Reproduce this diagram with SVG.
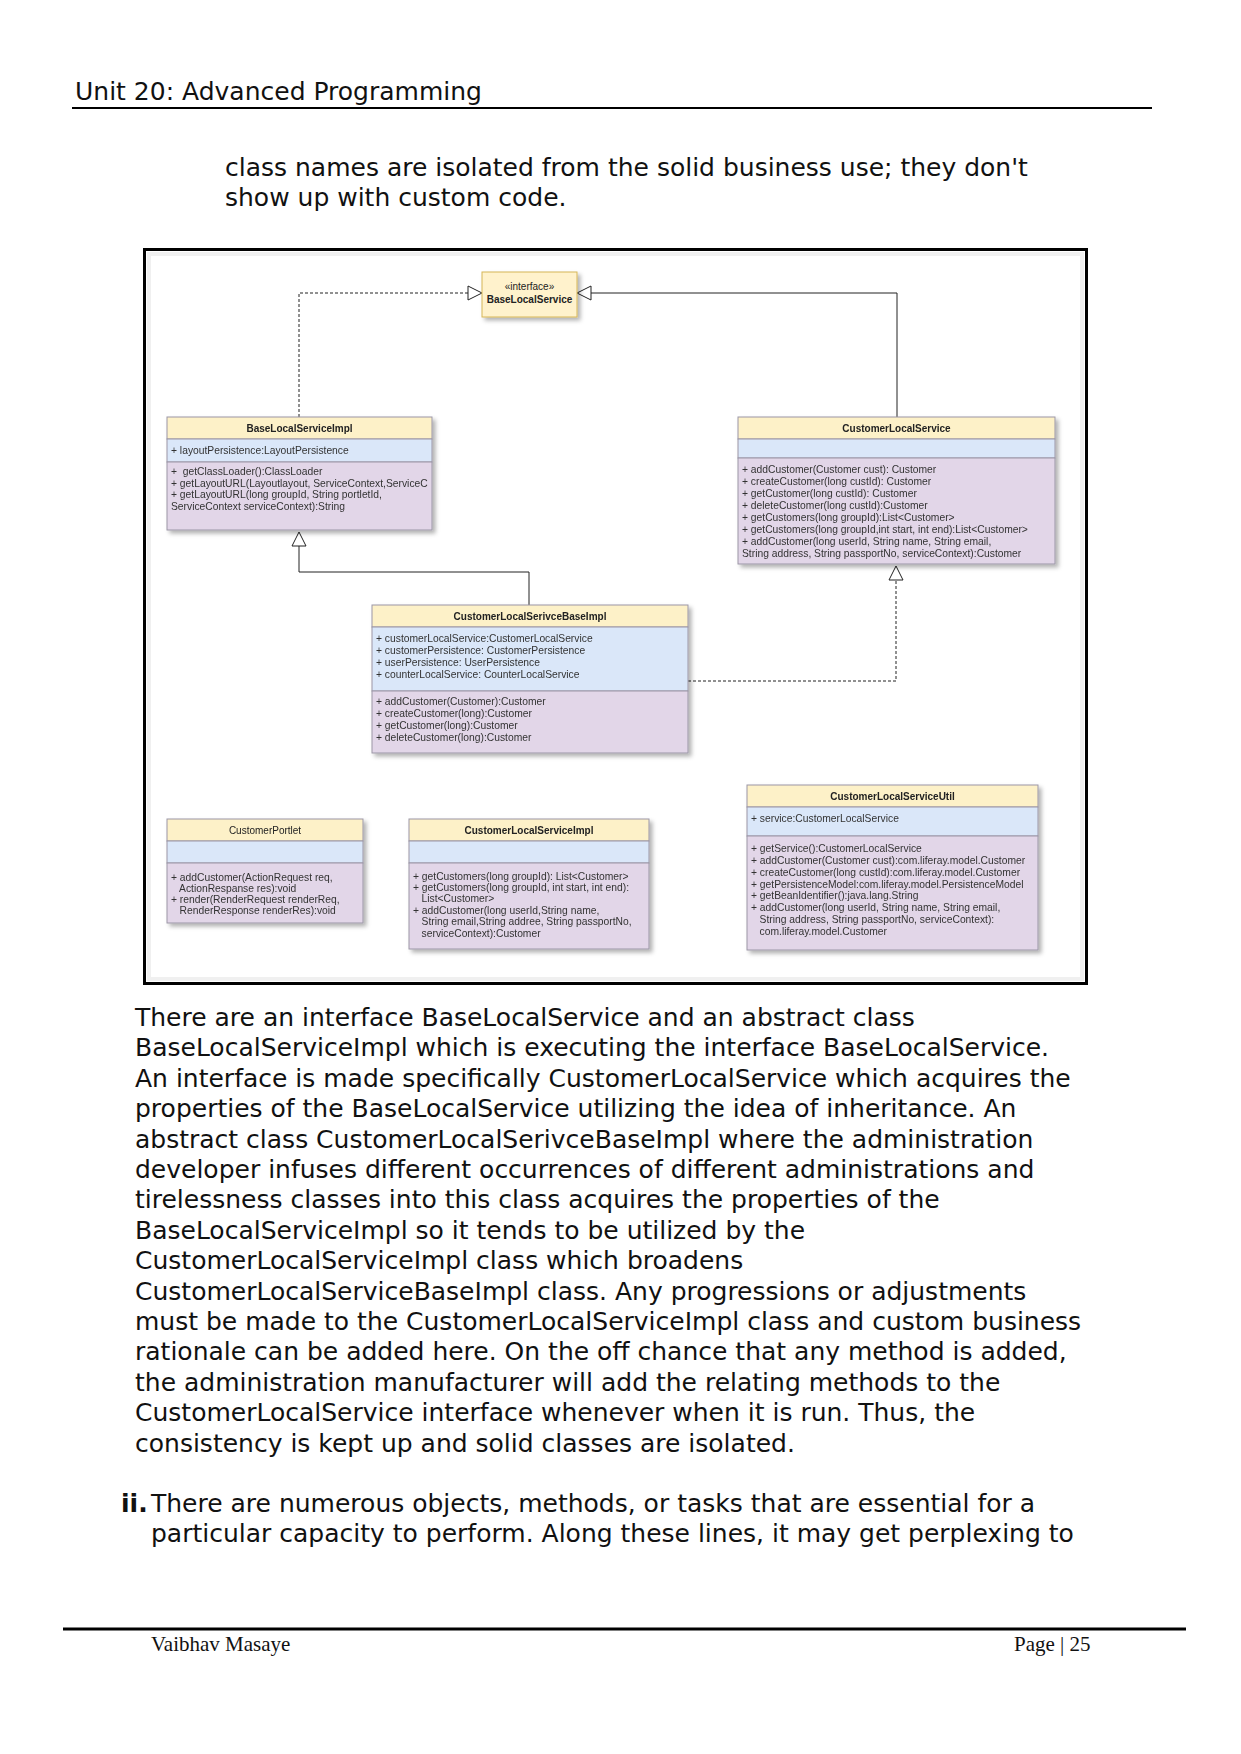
<svg xmlns="http://www.w3.org/2000/svg" width="1241" height="1754" viewBox="0 0 1241 1754">
<defs>
<style>
.page{font-family:"DejaVu Sans",sans-serif;font-size:25px;fill:#111}
.foot{font-family:"Liberation Serif",serif;font-size:21px;fill:#111}
.hd{fill:#fdf1c8;stroke:#9b96a6;stroke-width:1}
.at{fill:#dae7f9;stroke:#9b96a6;stroke-width:1}
.me{fill:#e2d6e8;stroke:#9b96a6;stroke-width:1}
.ttl{font-family:"Liberation Sans",Arial,sans-serif;font-size:10px;font-weight:bold;fill:#222;text-anchor:middle}
.tx{font-family:"Liberation Sans",Arial,sans-serif;font-size:10.3px;fill:#333;white-space:pre}
.ln{fill:none;stroke:#222;stroke-width:1}
.dl{fill:none;stroke:#222;stroke-width:1;stroke-dasharray:3 2}
.tri{fill:#fff;stroke:#222;stroke-width:1}
</style>
<filter id="sh" x="-10%" y="-10%" width="130%" height="130%">
<feDropShadow dx="3" dy="3" stdDeviation="2" flood-color="#000" flood-opacity="0.3"/>
</filter>
<clipPath id="c1"><rect x="167" y="462" width="265" height="68"/></clipPath>
</defs>
<rect x="0" y="0" width="1241" height="1754" fill="#fff"/>

<text class="page" x="75" y="100">Unit 20: Advanced Programming</text>
<line x1="72" y1="108" x2="1152" y2="108" stroke="#000" stroke-width="2"/>
<text class="page" x="225" y="176">class names are isolated from the solid business use; they don't</text>
<text class="page" x="225" y="206">show up with custom code.</text>

<g id="frame">
<rect x="144.5" y="249.5" width="942" height="734" fill="#fff" stroke="#000" stroke-width="3"/>
<rect x="149" y="254" width="933" height="725" fill="none" stroke="#f0f0f0" stroke-width="4"/>
</g>

<g id="connectors">
<polyline class="dl" points="299,417 299,293 468,293"/>
<polygon class="tri" points="468,286 482,293 468,300"/>
<polyline class="ln" points="897,417 897,293 591,293"/>
<polygon class="tri" points="591,286 577,293 591,300"/>
<polyline class="ln" points="529,605 529,572 299,572 299,546"/>
<polygon class="tri" points="292,546 299,532 306,546"/>
<polyline class="dl" points="688,681 896,681 896,580"/>
<polygon class="tri" points="889,580 896,566 903,580"/>
</g>

<g id="BaseLocalService">
<rect x="482" y="272" width="95" height="45" fill="#fff2cc" stroke="#d6b656" filter="url(#sh)"/>
<text class="ttl" x="529.5" y="290" style="font-weight:normal;font-size:10px">«interface»</text>
<text class="ttl" x="529.5" y="303">BaseLocalService</text>
</g>

<g id="BaseLocalServiceImpl" filter="url(#sh)">
<rect class="hd" x="167" y="417" width="265" height="22"/>
<rect class="at" x="167" y="439" width="265" height="23"/>
<rect class="me" x="167" y="462" width="265" height="68"/>
<text class="ttl" x="299.5" y="432">BaseLocalServiceImpl</text>
<text class="tx" x="171" y="454">+ layoutPersistence:LayoutPersistence</text>
<g clip-path="url(#c1)">
<text class="tx" x="171" y="475">+  getClassLoader():ClassLoader</text>
<text class="tx" x="171" y="487">+ getLayoutURL(Layoutlayout, ServiceContext,ServiceC</text>
<text class="tx" x="171" y="498">+ getLayoutURL(long groupId, String portletId,</text>
<text class="tx" x="171" y="510">ServiceContext serviceContext):String</text>
</g>
</g>

<g id="CustomerLocalService" filter="url(#sh)">
<rect class="hd" x="738" y="417" width="317" height="22"/>
<rect class="at" x="738" y="439" width="317" height="19"/>
<rect class="me" x="738" y="458" width="317" height="106"/>
<text class="ttl" x="896.5" y="432">CustomerLocalService</text>
<text class="tx" x="742" y="473">+ addCustomer(Customer cust): Customer</text>
<text class="tx" x="742" y="485">+ createCustomer(long custId): Customer</text>
<text class="tx" x="742" y="497">+ getCustomer(long custId): Customer</text>
<text class="tx" x="742" y="509">+ deleteCustomer(long custId):Customer</text>
<text class="tx" x="742" y="521">+ getCustomers(long groupId):List&lt;Customer&gt;</text>
<text class="tx" x="742" y="533">+ getCustomers(long groupId,int start, int end):List&lt;Customer&gt;</text>
<text class="tx" x="742" y="545">+ addCustomer(long userId, String name, String email,</text>
<text class="tx" x="742" y="557">String address, String passportNo, serviceContext):Customer</text>
</g>

<g id="CustomerLocalSerivceBaseImpl" filter="url(#sh)">
<rect class="hd" x="372" y="605" width="316" height="22"/>
<rect class="at" x="372" y="627" width="316" height="64"/>
<rect class="me" x="372" y="691" width="316" height="62"/>
<text class="ttl" x="530" y="620">CustomerLocalSerivceBaseImpl</text>
<text class="tx" x="376" y="642">+ customerLocalService:CustomerLocalService</text>
<text class="tx" x="376" y="654">+ customerPersistence: CustomerPersistence</text>
<text class="tx" x="376" y="666">+ userPersistence: UserPersistence</text>
<text class="tx" x="376" y="678">+ counterLocalService: CounterLocalService</text>
<text class="tx" x="376" y="705">+ addCustomer(Customer):Customer</text>
<text class="tx" x="376" y="717">+ createCustomer(long):Customer</text>
<text class="tx" x="376" y="729">+ getCustomer(long):Customer</text>
<text class="tx" x="376" y="741">+ deleteCustomer(long):Customer</text>
</g>

<g id="CustomerPortlet" filter="url(#sh)">
<rect class="hd" x="167" y="819" width="196" height="22"/>
<rect class="at" x="167" y="841" width="196" height="22"/>
<rect class="me" x="167" y="863" width="196" height="60"/>
<text class="ttl" x="265" y="834" style="font-weight:normal">CustomerPortlet</text>
<text class="tx" x="171" y="881">+ addCustomer(ActionRequest req,</text>
<text class="tx" x="171" y="892">   ActionRespanse res):void</text>
<text class="tx" x="171" y="903">+ render(RenderRequest renderReq,</text>
<text class="tx" x="171" y="914">   RenderResponse renderRes):void</text>
</g>

<g id="CustomerLocalServiceImpl" filter="url(#sh)">
<rect class="hd" x="409" y="819" width="240" height="22"/>
<rect class="at" x="409" y="841" width="240" height="22"/>
<rect class="me" x="409" y="863" width="240" height="86"/>
<text class="ttl" x="529" y="834">CustomerLocalServiceImpl</text>
<text class="tx" x="413" y="880">+ getCustomers(long groupId): List&lt;Customer&gt;</text>
<text class="tx" x="413" y="891">+ getCustomers(long groupId, int start, int end):</text>
<text class="tx" x="413" y="902">   List&lt;Customer&gt;</text>
<text class="tx" x="413" y="914">+ addCustomer(long userId,String name,</text>
<text class="tx" x="413" y="925">   String email,String addree, String passportNo,</text>
<text class="tx" x="413" y="937">   serviceContext):Customer</text>
</g>

<g id="CustomerLocalServiceUtil" filter="url(#sh)">
<rect class="hd" x="747" y="785" width="291" height="22"/>
<rect class="at" x="747" y="807" width="291" height="29"/>
<rect class="me" x="747" y="836" width="291" height="114"/>
<text class="ttl" x="892.5" y="800">CustomerLocalServiceUtil</text>
<text class="tx" x="751" y="822">+ service:CustomerLocalService</text>
<text class="tx" x="751" y="852">+ getService():CustomerLocalService</text>
<text class="tx" x="751" y="864">+ addCustomer(Customer cust):com.liferay.model.Customer</text>
<text class="tx" x="751" y="876">+ createCustomer(long custId):com.liferay.model.Customer</text>
<text class="tx" x="751" y="888">+ getPersistenceModel:com.liferay.model.PersistenceModel</text>
<text class="tx" x="751" y="899">+ getBeanIdentifier():java.lang.String</text>
<text class="tx" x="751" y="911">+ addCustomer(long userId, String name, String email,</text>
<text class="tx" x="751" y="923">   String address, String passportNo, serviceContext):</text>
<text class="tx" x="751" y="935">   com.liferay.model.Customer</text>
</g>

<g id="body">
<text class="page" x="135" y="1026">There are an interface BaseLocalService and an abstract class</text>
<text class="page" x="135" y="1056">BaseLocalServiceImpl which is executing the interface BaseLocalService.</text>
<text class="page" x="135" y="1087">An interface is made specifically CustomerLocalService which acquires the</text>
<text class="page" x="135" y="1117">properties of the BaseLocalService utilizing the idea of inheritance. An</text>
<text class="page" x="135" y="1148">abstract class CustomerLocalSerivceBaseImpl where the administration</text>
<text class="page" x="135" y="1178">developer infuses different occurrences of different administrations and</text>
<text class="page" x="135" y="1208">tirelessness classes into this class acquires the properties of the</text>
<text class="page" x="135" y="1239">BaseLocalServiceImpl so it tends to be utilized by the</text>
<text class="page" x="135" y="1269">CustomerLocalServiceImpl class which broadens</text>
<text class="page" x="135" y="1300">CustomerLocalServiceBaseImpl class. Any progressions or adjustments</text>
<text class="page" x="135" y="1330">must be made to the CustomerLocalServiceImpl class and custom business</text>
<text class="page" x="135" y="1360">rationale can be added here. On the off chance that any method is added,</text>
<text class="page" x="135" y="1391">the administration manufacturer will add the relating methods to the</text>
<text class="page" x="135" y="1421">CustomerLocalService interface whenever when it is run. Thus, the</text>
<text class="page" x="135" y="1452">consistency is kept up and solid classes are isolated.</text>
<text class="page" x="121" y="1512" font-weight="bold">ii.</text>
<text class="page" x="151" y="1512">There are numerous objects, methods, or tasks that are essential for a</text>
<text class="page" x="151" y="1542">particular capacity to perform. Along these lines, it may get perplexing to</text>
</g>

<g id="footer">
<line x1="63" y1="1629" x2="1186" y2="1629" stroke="#000" stroke-width="3"/>
<text class="foot" x="151" y="1651">Vaibhav Masaye</text>
<text class="foot" x="1014" y="1651">Page | 25</text>
</g>
</svg>
